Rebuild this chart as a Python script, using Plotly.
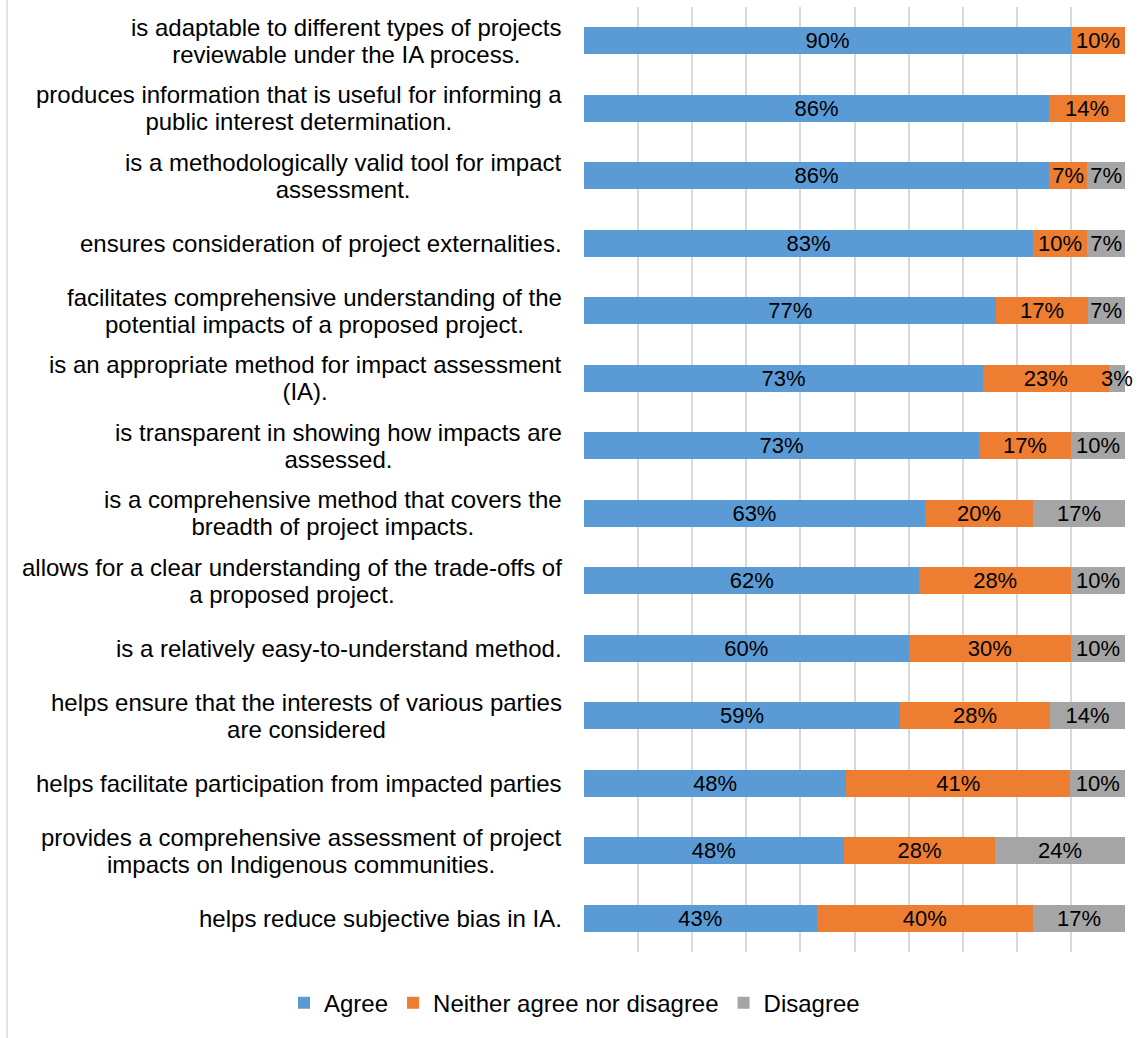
import plotly.graph_objects as go

categories = [
    "is adaptable to different types of projects<br>reviewable under the IA process.",
    "produces information that is useful for informing a<br>public interest determination.",
    "is a methodologically valid tool for impact<br>assessment.",
    "ensures consideration of project externalities.",
    "facilitates comprehensive understanding of the<br>potential impacts of a proposed project.",
    "is an appropriate method for impact assessment<br>(IA).",
    "is transparent in showing how impacts are<br>assessed.",
    "is a comprehensive method that covers the<br>breadth of project impacts.",
    "allows for a clear understanding of the trade-offs of<br>a proposed project.",
    "is a relatively easy-to-understand method.",
    "helps ensure that the interests of various parties<br>are considered",
    "helps facilitate participation from impacted parties",
    "provides a comprehensive assessment of project<br>impacts on Indigenous communities.",
    "helps reduce subjective bias in IA.",
]
agree = [90, 86, 86, 83, 77, 73, 73, 63, 62, 60, 59, 48, 48, 43]
neither = [10, 14, 7, 10, 17, 23, 17, 20, 28, 30, 28, 41, 28, 40]
disagree = [0, 0, 7, 7, 7, 3, 10, 17, 10, 10, 14, 10, 24, 17]

series = [
    ("Agree", agree, "#5B9BD5"),
    ("Neither agree nor disagree", neither, "#ED7D31"),
    ("Disagree", disagree, "#A5A5A5"),
]

FONT = "Liberation Sans, Arial, sans-serif"
ids = list(range(len(categories)))

fig = go.Figure()
for name, vals, color in series:
    fig.add_trace(go.Bar(
        y=ids, x=vals, name=name, orientation="h",
        marker=dict(color=color, line=dict(width=0)),
        text=[f"{v}%" if v > 0 else "" for v in vals],
        textposition="inside", insidetextanchor="middle",
        textangle=0, constraintext="none",
        textfont=dict(family=FONT, size=22, color="#000000"),
        cliponaxis=False,
    ))

for i, c in zip(ids, categories):
    fig.add_annotation(
        x=0, xref="paper", y=i, yref="y",
        text='<span style="font-size:24px">' + c.replace("<br>", '</span><br><span style="font-size:24px">') + "</span>",
        showarrow=False,
        xanchor="right", yanchor="middle", align="center", xshift=-20,
        font=dict(family=FONT, size=21, color="#000000"),
    )

# chart-area left border
fig.add_shape(type="line", xref="paper", yref="paper",
              x0=-1.0665, x1=-1.0665, y0=1.01, y1=-0.1,
              line=dict(color="#D9D9D9", width=1.5))

fig.update_layout(
    barmode="stack", barnorm="percent", bargap=0.6,
    width=1140, height=1038,
    margin=dict(l=584, r=15, t=7, b=86, autoexpand=False),
    paper_bgcolor="white", plot_bgcolor="white",
    font=dict(family=FONT, size=22, color="#000000"),
    showlegend=True,
    legend=dict(orientation="h", xref="paper", yref="paper",
                x=-0.5545, xanchor="left", y=-0.054, yanchor="middle",
                font=dict(family=FONT, size=24, color="#000000"),
                traceorder="normal", itemwidth=30),
)
fig.update_xaxes(range=[0, 100.001], dtick=10, showticklabels=False, showgrid=True,
                 gridcolor="#D9D9D9", gridwidth=1.5, zeroline=False, showline=False, fixedrange=True)
fig.update_yaxes(autorange="reversed", showticklabels=False, showgrid=False, zeroline=False,
                 tickmode="array", tickvals=ids)

fig.write_html("out.html")
